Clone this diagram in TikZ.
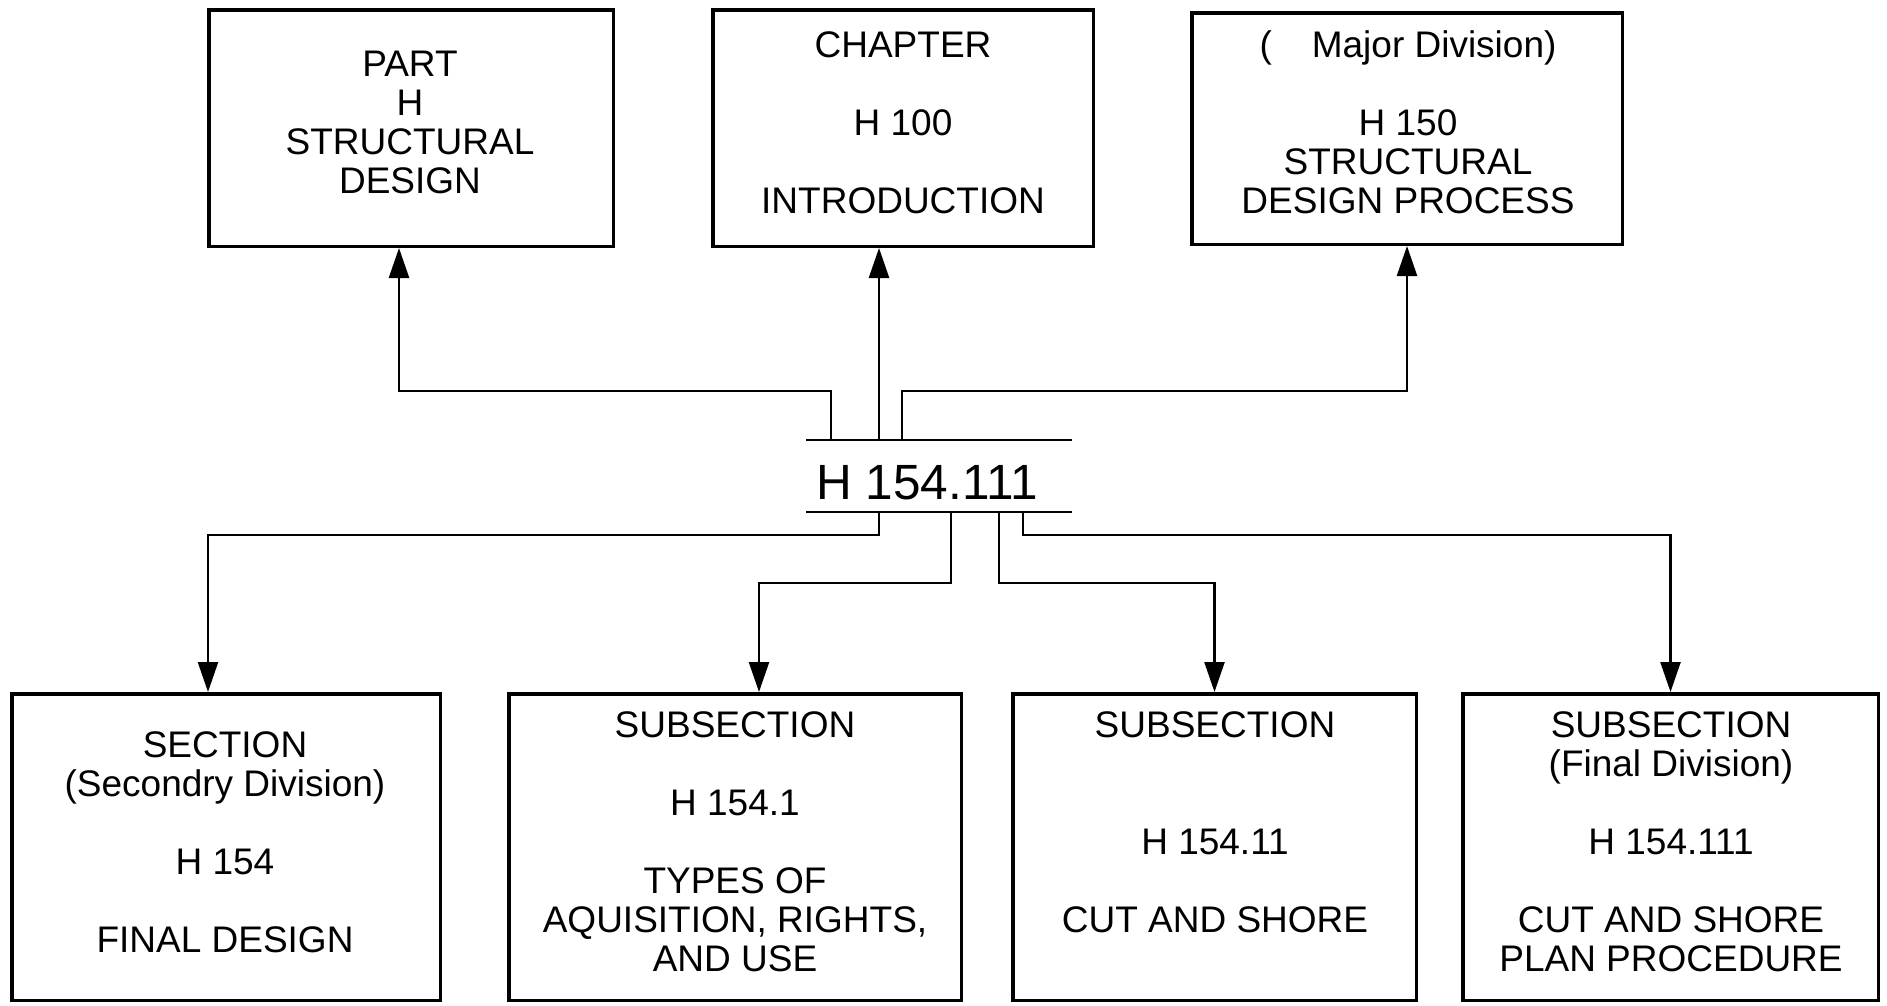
\documentclass[tikz,border=0pt]{standalone}
\usepackage{fontspec}
\setmainfont{Liberation Sans}
\usetikzlibrary{arrows.meta}
\newcommand{\mylines}[1]{\begin{tabular}[t]{@{}c@{}}#1\end{tabular}}
\begin{document}
\begin{tikzpicture}[x=1pt,y=-1pt,
  box/.style={draw, line width=3.5pt, inner sep=0pt},
  lbl/.style={anchor=base, inner sep=0pt, font=\fontsize{37}{39}\selectfont},
  conn/.style={line width=2.4pt, -{Triangle[length=30pt,width=20pt]}},
  plainline/.style={line width=2.4pt},
]
\fill[white] (0,0) rectangle (1887,1005);
\useasboundingbox (0,0) rectangle (1887,1005);

% top boxes
\node[box, minimum width=404.5pt, minimum height=236.5pt] (part) at (411,128) {};
\node[box, minimum width=380.5pt, minimum height=236.5pt] (chap) at (903,128) {};
\node[box, minimum width=430.5pt, minimum height=231.5pt] (major) at (1407,128.5) {};

\node[lbl] (tpart) at (410,76) {\mylines{PART\\H\\STRUCTURAL\\DESIGN}};
\node[lbl] (tchap) at (903,57) {\mylines{CHAPTER\\ \\H 100\\ \\INTRODUCTION}};
\node[lbl] (tmajor) at (1408,57) {\mylines{(\hspace{40pt}Major Division)\\ \\H 150\\STRUCTURAL\\DESIGN PROCESS}};

% bottom boxes
\node[box, minimum width=428.5pt, minimum height=306.5pt] (sec) at (226,847) {};
\node[box, minimum width=452.5pt, minimum height=306.5pt] (sub1) at (735,847) {};
\node[box, minimum width=403.5pt, minimum height=306.5pt] (sub2) at (1214.5,847) {};
\node[box, minimum width=415.5pt, minimum height=306.5pt] (sub3) at (1670.5,847) {};

\node[lbl] (tsec) at (225,757) {\mylines{SECTION\\(Secondry Division)\\ \\H 154\\ \\FINAL DESIGN}};
\node[lbl] (tsub1) at (735,737) {\mylines{SUBSECTION\\ \\H 154.1\\ \\TYPES OF\\AQUISITION, RIGHTS,\\AND USE}};
\node[lbl] (tsub2) at (1215,737) {\mylines{SUBSECTION\\ \\ \\H 154.11\\ \\CUT AND SHORE}};
\node[lbl] (tsub3) at (1671,737) {\mylines{SUBSECTION\\(Final Division)\\ \\H 154.111\\ \\CUT AND SHORE\\PLAN PROCEDURE}};

% central code with bars
\node[minimum width=266pt, minimum height=72pt, inner sep=0pt, outer sep=0pt] (bar) at (939,476) {};
\node[anchor=base, inner sep=0pt, font=\fontsize{49.5}{52}\selectfont] (code) at (927,499) {H 154.111};
\draw[plainline] (bar.north west) -- (bar.north east);
\draw[plainline] (bar.south west) -- (bar.south east);

\coordinate (u1) at (831,440);
\coordinate (u2) at (879,440);
\coordinate (u3) at (902,440);
\coordinate (d1) at (879,512);
\coordinate (d2) at (951,512);
\coordinate (d3) at (999,512);
\coordinate (d4) at (1023,512);

% upward connectors
\draw[conn] (u1) -- ++(0,-49) -| ([xshift=-12pt]part.south);
\draw[conn] (u2) -- (u2 |- chap.south);
\draw[conn] (u3) -- ++(0,-49) -| (major.south);

% downward connectors
\draw[conn] (d1) -- ++(0,23) -| ([xshift=-18pt]sec.north);
\draw[conn] (d2) -- ++(0,71) -| ([xshift=24pt]sub1.north);
\draw[conn] (d3) -- ++(0,71) -| (sub2.north);
\draw[conn] (d4) -- ++(0,23) -| (sub3.north);
\end{tikzpicture}
\end{document}
